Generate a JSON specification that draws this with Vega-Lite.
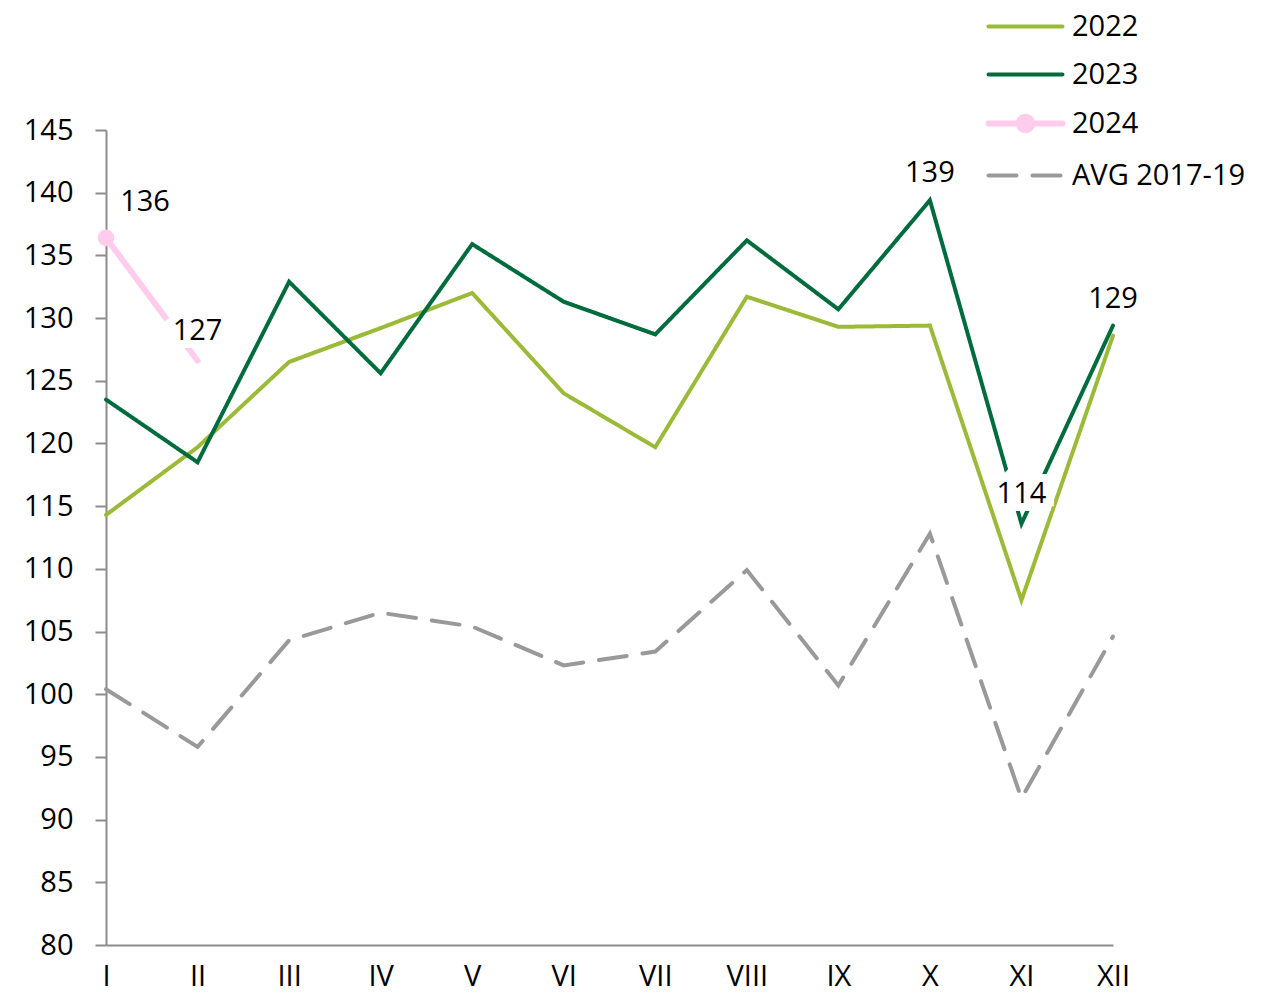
{
  "$schema": "https://vega.github.io/schema/vega-lite/v6.json",
  "autosize": "none",
  "width": 1007,
  "height": 815,
  "padding": {"left": 106, "top": 130, "right": 148, "bottom": 47},
  "background": "white",
  "config": {
    "font": "Open Sans",
    "view": {"stroke": null},
    "axis": {"labelFont": "Open Sans", "labelFontSize": 29, "labelColor": "#000000", "domainColor": "#8c8c8c", "domainWidth": 2, "tickColor": "#8c8c8c", "tickWidth": 2, "grid": false, "title": null}
  },
  "data": {
    "values": [
      {"month": "I", "series": "2022", "value": 114.3},
      {"month": "II", "series": "2022", "value": 119.7},
      {"month": "III", "series": "2022", "value": 126.5},
      {"month": "IV", "series": "2022", "value": 129.2},
      {"month": "V", "series": "2022", "value": 132.0},
      {"month": "VI", "series": "2022", "value": 124.0},
      {"month": "VII", "series": "2022", "value": 119.7},
      {"month": "VIII", "series": "2022", "value": 131.7},
      {"month": "IX", "series": "2022", "value": 129.3},
      {"month": "X", "series": "2022", "value": 129.4},
      {"month": "XI", "series": "2022", "value": 107.5},
      {"month": "XII", "series": "2022", "value": 128.6},
      {"month": "I", "series": "2023", "value": 123.5},
      {"month": "II", "series": "2023", "value": 118.5},
      {"month": "III", "series": "2023", "value": 132.9},
      {"month": "IV", "series": "2023", "value": 125.6},
      {"month": "V", "series": "2023", "value": 135.9},
      {"month": "VI", "series": "2023", "value": 131.3},
      {"month": "VII", "series": "2023", "value": 128.7},
      {"month": "VIII", "series": "2023", "value": 136.2},
      {"month": "IX", "series": "2023", "value": 130.7},
      {"month": "X", "series": "2023", "value": 139.4},
      {"month": "XI", "series": "2023", "value": 113.6},
      {"month": "XII", "series": "2023", "value": 129.4},
      {"month": "I", "series": "2024", "value": 136.4},
      {"month": "II", "series": "2024", "value": 126.6},
      {"month": "I", "series": "AVG 2017-19", "value": 100.4},
      {"month": "II", "series": "AVG 2017-19", "value": 95.8},
      {"month": "III", "series": "AVG 2017-19", "value": 104.3},
      {"month": "IV", "series": "AVG 2017-19", "value": 106.5},
      {"month": "V", "series": "AVG 2017-19", "value": 105.4},
      {"month": "VI", "series": "AVG 2017-19", "value": 102.3},
      {"month": "VII", "series": "AVG 2017-19", "value": 103.4},
      {"month": "VIII", "series": "AVG 2017-19", "value": 109.9},
      {"month": "IX", "series": "AVG 2017-19", "value": 100.7},
      {"month": "X", "series": "AVG 2017-19", "value": 112.8},
      {"month": "XI", "series": "AVG 2017-19", "value": 91.7},
      {"month": "XII", "series": "AVG 2017-19", "value": 104.6}
    ]
  },
  "encoding": {
    "x": {
      "field": "month", "type": "ordinal",
      "sort": ["I","II","III","IV","V","VI","VII","VIII","IX","X","XI","XII"],
      "scale": {"type": "point", "padding": 0},
      "axis": {"ticks": false, "labelAngle": 0, "labelPadding": 17, "labelBaseline": "top"}
    },
    "y": {
      "field": "value", "type": "quantitative",
      "scale": {"domain": [80, 145], "nice": false, "zero": false},
      "axis": {"values": [80,85,90,95,100,105,110,115,120,125,130,135,140,145], "tickSize": 11, "labelPadding": 22}
    }
  },
  "layer": [
    {
      "mark": {"type": "line", "strokeCap": "round", "strokeJoin": "miter"},
      "encoding": {
        "color": {
          "field": "series", "type": "nominal",
          "scale": {"domain": ["2022","2023","2024","AVG 2017-19"], "range": ["#9bbb38","#006b3d","#ffccee","#999999"]},
          "legend": {
            "orient": "none", "legendX": 898, "legendY": -124, "title": null,
            "labelFont": "Open Sans", "labelFontSize": 29, "labelColor": "#000000",
            "labelOffset": 25, "labelLimit": 400, "rowPadding": 12, "symbolSize": 1369, "symbolStrokeWidth": 4,
            "symbolType": "M-2,0H2",
            "encode": {
              "symbols": {
                "update": {
                  "shape": [
                    {"test": "datum.value === '2024'", "value": "M-2,0H2M0.36,0A0.36,0.36,0,1,1,-0.36,0A0.36,0.36,0,1,1,0.36,0"},
                    {"value": "M-2,0H2"}
                  ],
                  "fill": [
                    {"test": "datum.value === '2024'", "value": "#ffccee"},
                    {"value": "transparent"}
                  ],
                  "strokeCap": {"value": "round"}
                }
              }
            }
          }
        },
        "strokeDash": {
          "field": "series", "type": "nominal",
          "scale": {"domain": ["2022","2023","2024","AVG 2017-19"], "range": [[1,0],[1,0],[1,0],[28,16]]},
          "legend": null
        },
        "strokeWidth": {
          "field": "series", "type": "nominal",
          "scale": {"type": "ordinal", "domain": ["2022","2023","2024","AVG 2017-19"], "range": [4,4,6,4]},
          "legend": null
        }
      }
    },
    {
      "transform": [{"filter": "datum.series === '2024' && datum.month === 'I'"}],
      "mark": {"type": "point", "filled": true, "shape": "circle", "size": 280, "color": "#ffccee", "opacity": 1}
    },
    {
      "transform": [{"filter": "datum.series === '2024' && datum.month === 'I'"}],
      "mark": {"type": "text", "fontSize": 29, "font": "Open Sans", "color": "#000000", "dx": 39, "dy": -36, "baseline": "middle", "align": "center"},
      "encoding": {"text": {"field": "value", "type": "quantitative", "format": ".0f"}}
    },
    {
      "transform": [{"filter": "(datum.series === '2024' && datum.month === 'II') || (datum.series === '2023' && datum.month === 'XI')"}],
      "mark": {"type": "text", "fontSize": 29, "font": "Open Sans", "fill": "#ffffff", "stroke": "#ffffff", "strokeOpacity": 1, "strokeWidth": 16, "strokeJoin": "miter", "dy": -30, "baseline": "middle", "align": "center"},
      "encoding": {"text": {"field": "value", "type": "quantitative", "format": ".0f"}}
    },
    {
      "transform": [{"filter": "(datum.series === '2024' && datum.month === 'II') || (datum.series === '2023' && datum.month === 'XI')"}],
      "mark": {"type": "text", "fontSize": 29, "font": "Open Sans", "color": "#000000", "dy": -30, "baseline": "middle", "align": "center"},
      "encoding": {"text": {"field": "value", "type": "quantitative", "format": ".0f"}}
    },
    {
      "transform": [{"filter": "datum.series === '2023' && (datum.month === 'X' || datum.month === 'XII')"}],
      "mark": {"type": "text", "fontSize": 29, "font": "Open Sans", "color": "#000000", "dy": -27, "baseline": "middle", "align": "center"},
      "encoding": {"text": {"field": "value", "type": "quantitative", "format": ".0f"}}
    }
  ]
}
